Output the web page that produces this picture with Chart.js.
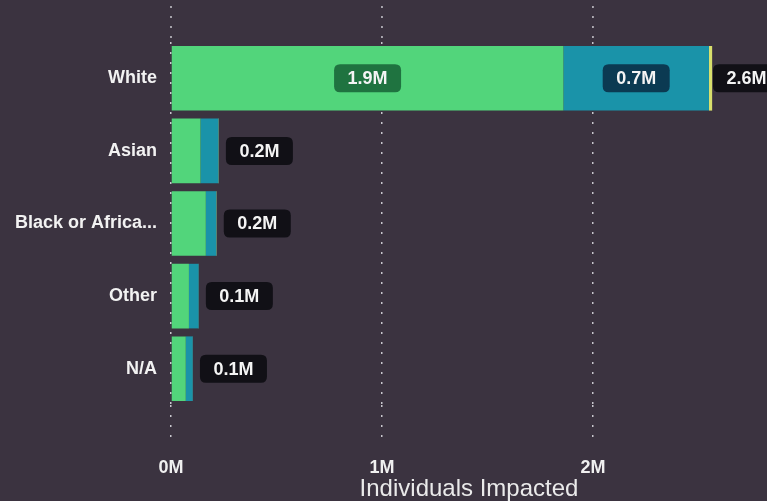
<!DOCTYPE html>
<html>
<head>
<meta charset="utf-8">
<script src="https://cdn.jsdelivr.net/npm/chart.js@4"></script>
<style>
    html, body { margin: 0; padding: 0; background: #3b3340; }
    #wrap { width: 767px; height: 501px; }
</style>
</head>
<body>
<div id="wrap"><canvas id="raceChart"></canvas></div>
<script>
// categories and values (millions of people)
const categories = ['White', 'Asian', 'Black or African American', 'Other', 'N/A'];
const greenVals = [1.86, 0.14, 0.165, 0.085, 0.07];
const blueVals = [0.69, 0.085, 0.05, 0.046, 0.033];
const yellowVals = [0.015, 0.002, 0.002, 0.001, 0.001];
const xTicks = [0, 1, 2];

const totals = categories.map((c, i) => greenVals[i] + blueVals[i] + yellowVals[i]);

function fmtM(v) {
    return v.toFixed(1) + 'M';
}

function roundBox(ctx, x, y, w, h, r) {
    ctx.beginPath();
    ctx.moveTo(x + r, y);
    ctx.lineTo(x + w - r, y);
    ctx.quadraticCurveTo(x + w, y, x + w, y + r);
    ctx.lineTo(x + w, y + h - r);
    ctx.quadraticCurveTo(x + w, y + h, x + w - r, y + h);
    ctx.lineTo(x + r, y + h);
    ctx.quadraticCurveTo(x, y + h, x, y + h - r);
    ctx.lineTo(x, y + r);
    ctx.quadraticCurveTo(x, y, x + r, y);
    ctx.closePath();
}

// dotted grid above the plot area
const topDots = {
    id: 'topDots',
    beforeDatasetsDraw(chart) {
        const ctx = chart.ctx;
        const xs = chart.scales.x;
        ctx.save();
        ctx.strokeStyle = 'rgba(235,235,240,0.8)';
        ctx.lineWidth = 1.5;
        ctx.setLineDash([2, 8]);
        xTicks.forEach(t => {
            const px = xs.getPixelForValue(t);
            ctx.beginPath();
            ctx.moveTo(px, 6);
            ctx.lineTo(px, chart.chartArea.top);
            ctx.stroke();
        });
        ctx.restore();
    }
};

// value boxes on segments + totals at the end
const boxLabels = {
    id: 'boxLabels',
    afterDatasetsDraw(chart) {
        const ctx = chart.ctx;
        ctx.save();
        ctx.font = 'bold 18px "Liberation Sans", Arial, sans-serif';
        ctx.textAlign = 'center';
        ctx.textBaseline = 'middle';
        const boxW = 67, boxH = 28;
        chart.data.datasets.forEach((ds, di) => {
            const meta = chart.getDatasetMeta(di);
            meta.data.forEach((bar, i) => {
                const w = Math.abs(bar.x - bar.base);
                if (w < 90) return;
                const cx = (bar.x + bar.base) / 2;
                ctx.fillStyle = ds.boxColor;
                roundBox(ctx, cx - boxW / 2, bar.y - boxH / 2, boxW, boxH, 6);
                ctx.fill();
                ctx.fillStyle = '#f4f4f4';
                ctx.fillText(fmtM(ds.data[i]), cx, bar.y + 1);
            });
        });
        const last = chart.getDatasetMeta(chart.data.datasets.length - 1);
        last.data.forEach((bar, i) => {
            let bx = Math.min(bar.x + 7, chart.width - boxW + 13);
            ctx.fillStyle = '#111016';
            roundBox(ctx, bx, bar.y - boxH / 2, boxW, boxH, 6);
            ctx.fill();
            ctx.fillStyle = '#f4f4f4';
            ctx.fillText(fmtM(totals[i]), bx + boxW / 2, bar.y + 1);
        });
        ctx.restore();
    }
};

const raceChart = new Chart(document.getElementById('raceChart'), {
    type: 'bar',
    data: {
        labels: categories,
        datasets: [{
            label: 'Green',
            data: greenVals,
            backgroundColor: '#52d57b',
            boxColor: '#1f7340'
        }, {
            label: 'Blue',
            data: blueVals,
            backgroundColor: '#1a93a9',
            boxColor: '#0b3a52'
        }, {
            label: 'Yellow',
            data: yellowVals,
            backgroundColor: '#d8df6c',
            boxColor: '#111016'
        }]
    },
    options: {
        indexAxis: 'y',
        responsive: true,
        maintainAspectRatio: false,
        animation: false,
        layout: {
            padding: { top: 42, left: 0, right: 0, bottom: 0 }
        },
        datasets: {
            bar: {
                categoryPercentage: 1,
                barPercentage: 0.89,
                borderWidth: 0
            }
        },
        plugins: {
            legend: { display: false },
            tooltip: { enabled: false }
        },
        scales: {
            x: {
                stacked: true,
                min: 0,
                max: 2.825,
                afterFit: s => { s.height = 96; },
                afterBuildTicks: s => { s.ticks = xTicks.map(v => ({ value: v })); },
                ticks: {
                    color: '#f0f0f0',
                    font: { family: '"Liberation Sans", Arial, sans-serif', size: 18, weight: 'bold' },
                    padding: 12,
                    callback: v => v + 'M'
                },
                grid: {
                    color: 'rgba(235,235,240,0.8)',
                    lineWidth: 1.5,
                    tickLength: 40,
                    tickBorderDash: [2, 8],
                    tickColor: 'rgba(235,235,240,0.8)'
                },
                border: { display: false, dash: [2, 8] },
                title: {
                    display: true,
                    text: 'Individuals Impacted',
                    color: '#eaeaea',
                    font: { family: '"Liberation Sans", Arial, sans-serif', size: 24, lineHeight: 1 },
                    padding: { top: 0, bottom: 0 }
                }
            },
            y: {
                stacked: true,
                afterFit: s => { s.width = 171; },
                grid: { display: false },
                border: { display: false },
                ticks: {
                    color: '#f2f2f2',
                    padding: 6,
                    font: { family: '"Liberation Sans", Arial, sans-serif', size: 18, weight: 'bold' },
                    callback: function(v) {
                        const t = this.getLabelForValue(v);
                        return t.length > 16 ? t.slice(0, 15) + '...' : t;
                    }
                }
            }
        }
    },
    plugins: [topDots, boxLabels]
});
raceChart.options.scales.x.grid.borderDash = [2, 8];
</script>
</body>
</html>
